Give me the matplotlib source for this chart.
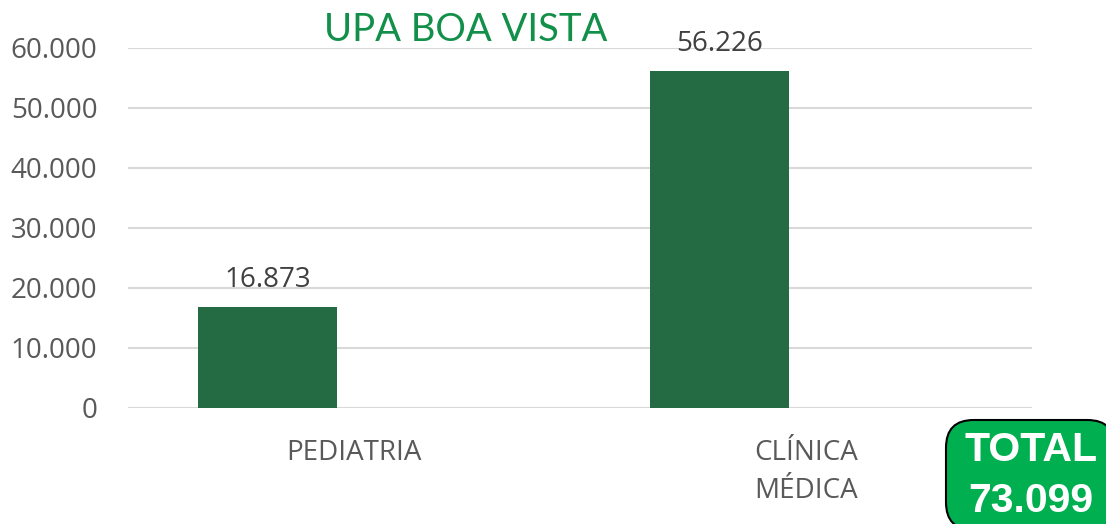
import matplotlib
matplotlib.use("Agg")
import matplotlib.pyplot as plt
from matplotlib.patches import FancyBboxPatch

categories = ["PEDIATRIA", "CLÍNICA\nMÉDICA"]
values = [16873, 56226]
value_labels = ["16.873", "56.226"]
yticks = [0, 10000, 20000, 30000, 40000, 50000, 60000]
ytick_labels = ["0", "10.000", "20.000", "30.000", "40.000", "50.000", "60.000"]
title = "UPA BOA VISTA"
total_text = "TOTAL\n73.099"

W, H = 1106, 524
fig = plt.figure(figsize=(W / 100, H / 100), dpi=100)
ax = fig.add_axes([128 / W, 1 - 408 / H, (1032 - 128) / W, (408 - 48) / H])

x = list(range(len(categories)))
offset = -0.191
width = 0.3075
bx = [xi + offset for xi in x]
ax.bar(bx, values, width=width, color="#246B43", zorder=3)
for xi, v, lab in zip(bx, values, value_labels):
    ax.annotate(lab, (xi, v), xytext=(0, 14), textcoords="offset points",
                ha="center", va="baseline", fontsize=20,
                family="Open Sans", color="#404040")

ax.set_xlim(-0.5, 1.5)
ax.set_ylim(0, 60000)
ax.set_yticks(yticks)
ax.set_yticklabels(ytick_labels, family="Open Sans", fontsize=20, color="#595959")
ax.set_xticks(x)
ax.set_xticklabels(categories, family="Open Sans", fontsize=20, color="#595959",
                   linespacing=1.5, va="top")
ax.tick_params(axis="y", length=0, pad=22)
ax.tick_params(axis="x", length=0, pad=22)
ax.grid(axis="y", color="#D9D9D9", linewidth=1.5, zorder=0)
for s in ax.spines.values():
    s.set_visible(False)

fig.text(466 / W, 1 - 30 / H, title, ha="center", va="center", fontsize=27.5,
         family="Lato", color="#12904A")

box = FancyBboxPatch((946 / W, 1 - 530 / H), (1115 - 946) / W, (530 - 420) / H,
                     boxstyle="round,pad=0,rounding_size=0.025",
                     transform=fig.transFigure, facecolor="#00B050",
                     edgecolor="black", linewidth=1.5, mutation_aspect=W / H)
fig.patches.append(box)
fig.text(1031 / W, 1 - 450 / H, "TOTAL", ha="center", va="center",
         fontsize=29.5, family="Liberation Sans", weight="bold", color="white")
fig.text(1031 / W, 1 - 501 / H, "73.099", ha="center", va="center",
         fontsize=29.5, family="Liberation Sans", weight="bold", color="white")

fig.savefig("out.png", dpi=100)
